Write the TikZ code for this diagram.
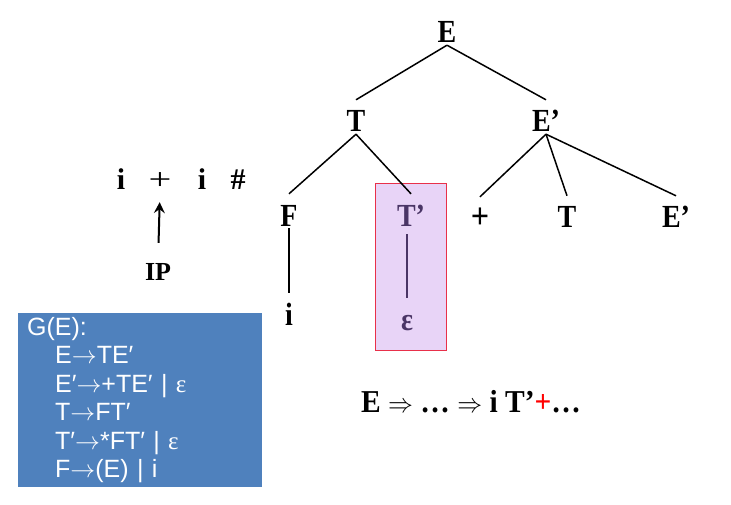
\documentclass[tikz,border=0pt]{standalone}
\usepackage{fontspec}
\usepackage{graphicx}
\setmainfont{Liberation Serif}
\newfontfamily\arialf{Liberation Sans}
\usetikzlibrary{arrows.meta}
\definecolor{boxblue}{HTML}{4F81BD}
\definecolor{boxpink}{HTML}{E8D4F7}
\definecolor{boxred}{HTML}{E8304A}
\definecolor{epscol}{HTML}{4A3566}
\newcommand\tallglyph[1]{\scalebox{1}[1.15]{#1}}
\begin{document}
\begin{tikzpicture}[x=1pt,y=-1pt,
  tn/.style={font=\fontsize{28}{30}\selectfont\bfseries, inner sep=0pt,
             text height=32pt, text depth=2pt, anchor=base},
  inp/.style={font=\fontsize{30}{32}\selectfont\bfseries, inner sep=0pt, anchor=base},
  edge/.style={line width=1.5pt},
  hlbox/.style={draw=boxred, fill=boxpink, line width=1.2pt, inner sep=0pt, anchor=north west},
  gbox/.style={fill=boxblue, text=white, anchor=north west, inner xsep=9pt, inner ysep=0pt,
               font=\arialf\fontsize{25}{28.5}\selectfont, align=left},
  derivn/.style={font=\fontsize{29.5}{32}\selectfont\bfseries, inner sep=0pt, anchor=base}]
\useasboundingbox (0,0) rectangle (731,505);

% highlight box
\node[hlbox, minimum width=71pt, minimum height=167pt] (hl) at (375,183) {};

% tree nodes
\node[tn] (E)  at (447,43)  {\tallglyph{E}};
\node[tn] (T)  at (356,132) {\tallglyph{T}};
\node[tn] (Ep) at (546,132) {\tallglyph{E’}};
\node[tn] (F)  at (289,226) {\tallglyph{F}};
\node[tn, text=epscol] (T2) at (411,226) {\tallglyph{T’}};
\node[tn] (plus) at (480,229) {\scalebox{1.15}[1.3]{+}};
\node[tn] (T3) at (567,228) {\tallglyph{T}};
\node[tn] (E2) at (676,228) {\tallglyph{E’}};
\node[tn] (i)  at (289,325) {\tallglyph{i}};
\node[tn, text=epscol] (eps) at (407,330) {\tallglyph{ε}};

% tree edges
\draw[edge] (E.south) -- (T.north);
\draw[edge] (E.south) -- (Ep.north);
\draw[edge] (T.south) -- (F.north);
\draw[edge] (T.south) -- (T2.north);
\draw[edge] (Ep.south) -- (plus.north);
\draw[edge] (Ep.south) -- (T3.north);
\draw[edge] (Ep.south) -- (E2.north);
\draw[edge] (F.south) -- (i.north);
\draw[edge, draw=epscol, shorten <=6pt] (eps.north |- T2.south) -- (eps.north);

% input
\node[inp] (i1) at (121,190) {i};
\node[inp, font=\fontsize{30}{32}\selectfont] (p1) at (160,190) {\scalebox{1.35}[1]{+}};
\node[inp] (i2) at (202,190) {i};
\node[inp] (h1) at (238,190) {\#};
\node[inp, font=\fontsize{26}{28}\selectfont\bfseries] (IP) at (158,280) {IP};
\draw[line width=2pt, -{Stealth[length=11pt,width=11pt,inset=4pt]}, shorten <=20pt, shorten >=12pt]
  (IP.north) -- (p1.south);

% derivation
\node[derivn] (der) at (471,412)
  {\scalebox{1}[1.08]{E $\Rightarrow$ \ldots{} $\Rightarrow$ i T’\textcolor{red}{+}\ldots}};

% grammar box
\node[gbox, minimum height=174pt, text width=226pt] (g) at (18,313)
  {G(E):\\
   \hspace*{28pt}E$\rightarrow$TE′\\
   \hspace*{28pt}E′$\rightarrow$+TE′ | {\rmfamily ε}\\
   \hspace*{28pt}T$\rightarrow$FT′\\
   \hspace*{28pt}T′$\rightarrow$*FT′ | {\rmfamily ε}\\
   \hspace*{28pt}F$\rightarrow$(E) | i};
\end{tikzpicture}
\end{document}
